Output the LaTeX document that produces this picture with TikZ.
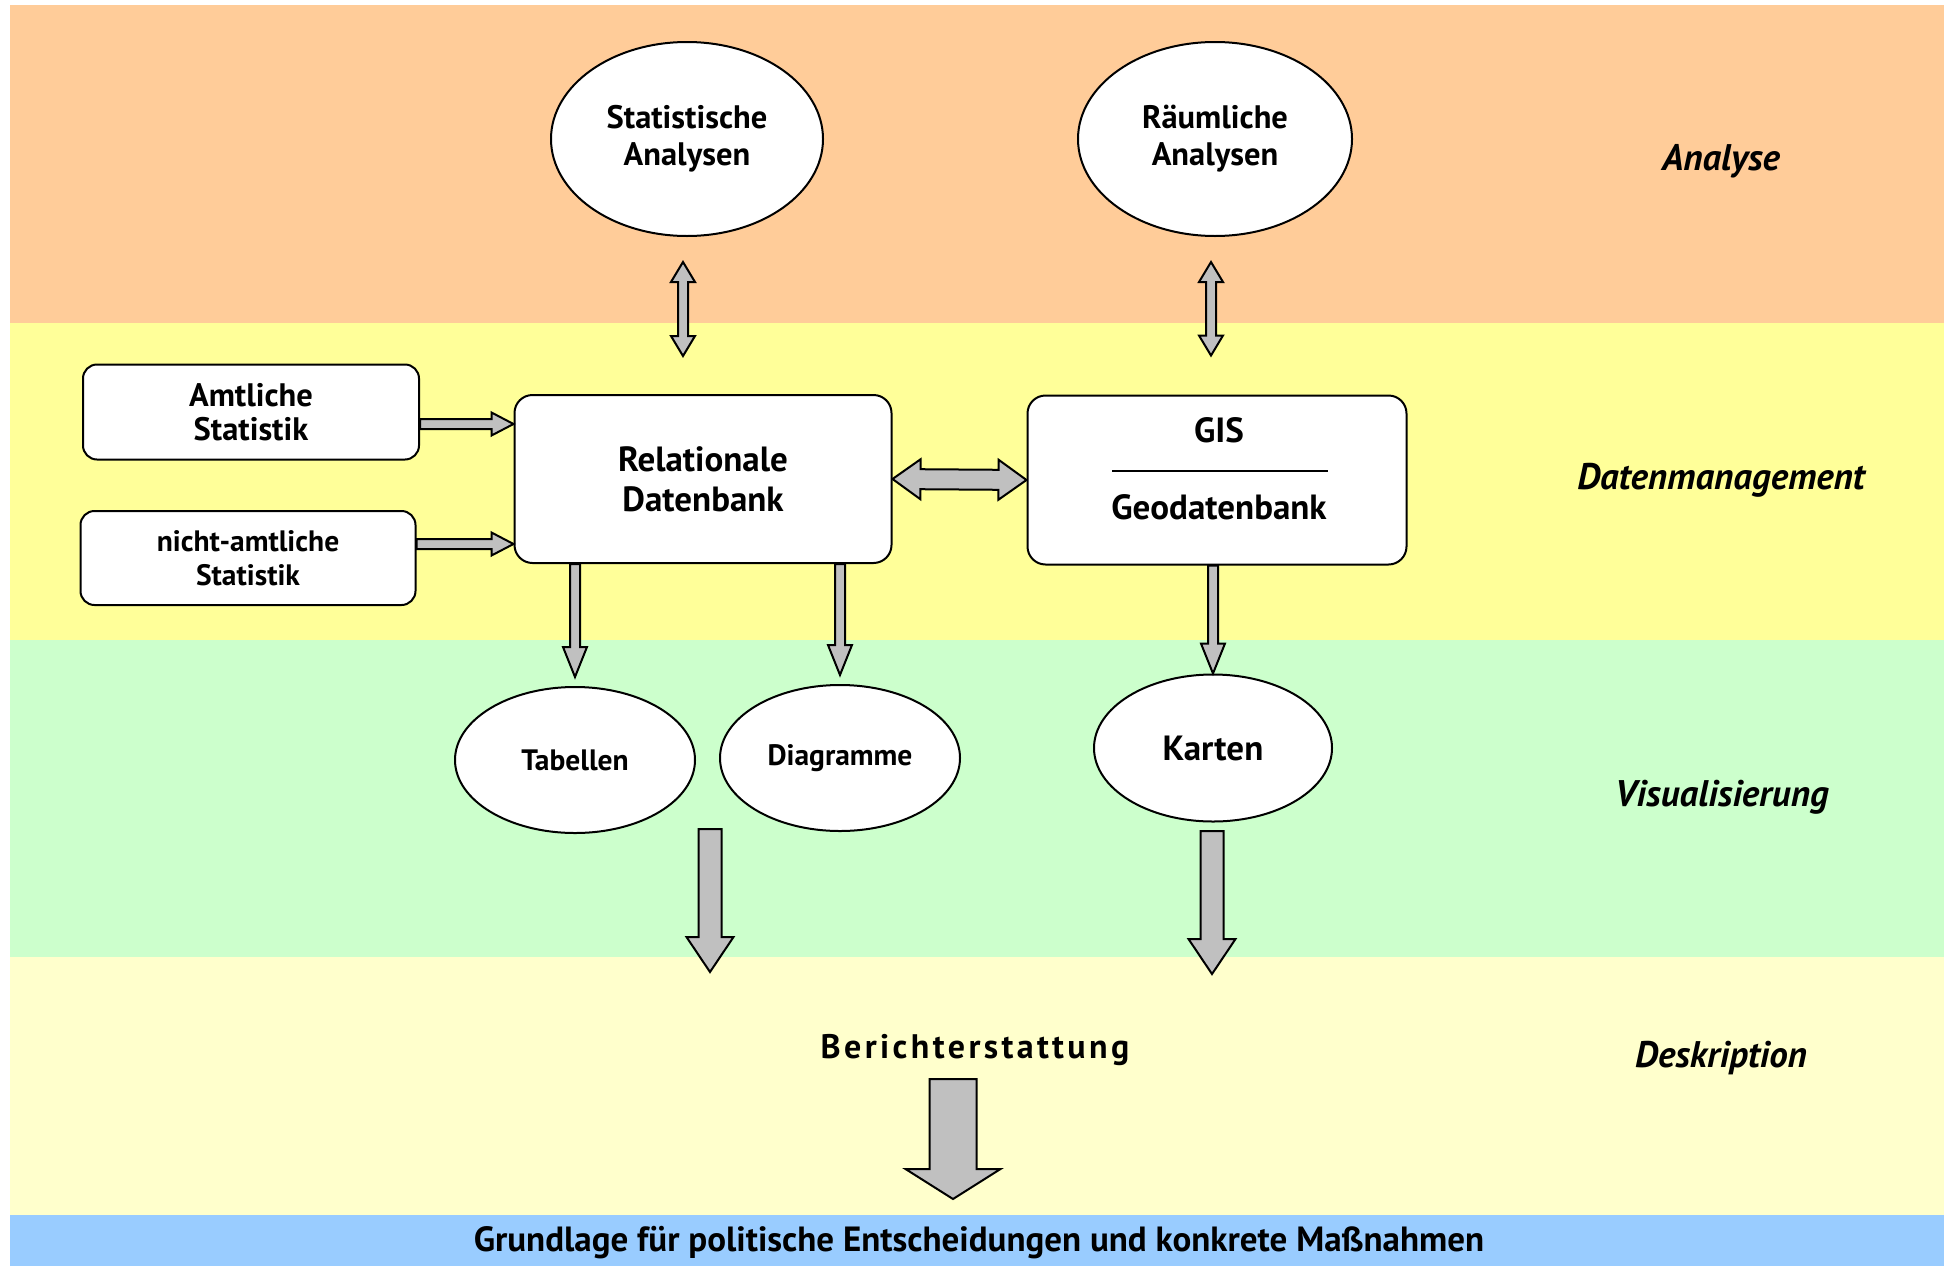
\documentclass[tikz,border=0pt]{standalone}
\usepackage{fontspec}
\setmainfont{PT Sans}
\usetikzlibrary{positioning,shapes.geometric,calc}
\definecolor{bandA}{HTML}{FFCC99}
\definecolor{bandB}{HTML}{FFFF99}
\definecolor{bandC}{HTML}{CCFFCC}
\definecolor{bandD}{HTML}{FFFFCC}
\definecolor{bandE}{HTML}{99CCFF}
\definecolor{arrowgray}{HTML}{C0C0C0}
\tikzset{font=\bfseries}
\tikzset{every node/.append style={transform shape=false}}
\tikzset{
  box/.style={draw,line width=2pt,fill=white,rounded corners=18pt,align=center},
  oval/.style={draw,line width=2pt,fill=white,ellipse,inner sep=0pt,align=center},
  blockarrow/.style={draw,fill=arrowgray,line width=2pt,line join=miter},
  sidelabel/.style={font=\bfseries\itshape\fontsize{37}{42}\selectfont},
  big/.style={font=\bfseries\fontsize{35}{40}\selectfont},
  mid/.style={font=\bfseries\fontsize{32.5}{37}\selectfont},
  small/.style={font=\bfseries\fontsize{29.5}{34}\selectfont}
}
% fat arrow: from, to, shaft width, head width, head length
\newcommand{\fatarrow}[5]{%
  \draw[blockarrow] let \p1=(#1), \p2=(#2),
      \n1={atan2(\y2-\y1,\x2-\x1)}, \n2={veclen(\x2-\x1,\y2-\y1)} in
    [shift={(\p1)},rotate=\n1]
    (0,#3/2) -- (\n2-#5,#3/2) -- (\n2-#5,#4/2) -- (\n2,0)
    -- (\n2-#5,-#4/2) -- (\n2-#5,-#3/2) -- (0,-#3/2) -- cycle;}
% same with a head on both ends
\newcommand{\dblarrow}[5]{%
  \draw[blockarrow] let \p1=(#1), \p2=(#2),
      \n1={atan2(\y2-\y1,\x2-\x1)}, \n2={veclen(\x2-\x1,\y2-\y1)} in
    [shift={(\p1)},rotate=\n1]
    (0,0) -- (#5,#4/2) -- (#5,#3/2) -- (\n2-#5,#3/2) -- (\n2-#5,#4/2)
    -- (\n2,0) -- (\n2-#5,-#4/2) -- (\n2-#5,-#3/2) -- (#5,-#3/2)
    -- (#5,-#4/2) -- cycle;}

\begin{document}
\begin{tikzpicture}[x=1pt,y=-1pt]
  \useasboundingbox (0,0) rectangle (1948,1266);

  % bands
  \fill[bandA] (10,5) rectangle (1944,323);
  \fill[bandB] (10,323) rectangle (1944,640);
  \fill[bandC] (10,640) rectangle (1944,957);
  \fill[bandD] (10,957) rectangle (1944,1215);
  \fill[bandE] (10,1215) rectangle (1944,1266);

  \node[sidelabel] (lblana) at (1721,161) {Analyse};
  \node[sidelabel] (lbldat) at (1721,480) {Datenmanagement};
  \node[sidelabel] (lblvis) at (1722,797) {Visualisierung};
  \node[sidelabel] (lbldes) at (1721,1058) {Deskription};

  % analysis
  \node[oval,mid,minimum width=272pt,minimum height=194pt] (stat) at (687,139) {Statistische\\Analysen};
  \node[oval,mid,minimum width=274pt,minimum height=194pt] (raum) at (1215,139) {Räumliche\\Analysen};

  % data management
  \node[box,font=\bfseries\fontsize{32.5}{34}\selectfont,rounded corners=14pt,minimum width=336pt,minimum height=95pt] (amtl) at (251,412) {Amtliche\\Statistik};
  \node[box,small,rounded corners=14pt,minimum width=335pt,minimum height=94pt] (nichtamtl) at (248,558) {nicht-amtliche\\Statistik};
  \node[box,big,minimum width=377pt,minimum height=168pt] (reldb) at (703,479) {Relationale\\Datenbank};
  \node[box,minimum width=379pt,minimum height=169pt] (gis) at (1217,480) {};
  \node[big] (gistitle) at (1219,430) {GIS};
  \node[big] (geodb) at (1219,507) {Geodatenbank};
  \coordinate (sepl) at (1112,471);
  \coordinate (sepr) at (1328,471);
  \draw[line width=2pt] (sepl) -- (sepr);

  % visualisation
  \node[oval,small,minimum width=240pt,minimum height=146pt] (tab) at (575,760) {Tabellen};
  \node[oval,small,minimum width=240pt,minimum height=146pt] (diag) at (840,758) {Diagramme};
  \node[oval,big,minimum width=238pt,minimum height=147pt] (karten) at (1213,748) {Karten};

  % description
  \node[font=\bfseries\fontsize{34}{38}\selectfont\addfontfeatures{LetterSpace=10}] (bericht) at (975,1050) {Berichterstattung};
  \node[big] (grundlage) at (979,1243) {Grundlage für politische Entscheidungen und konkrete Maßnahmen};

  % connectors
  \dblarrow{$(stat.south)+(-4,25)$}{$(reldb.north -| stat.south)+(-4,-38)$}{10}{24}{20}
  \dblarrow{$(raum.south)+(-4,25)$}{$(gis.north -| raum.south)+(-4,-39)$}{10}{24}{20}
  \fatarrow{$(amtl.east)+(0,12)$}{$(reldb.west)+(0,-55)$}{10}{23}{22}
  \fatarrow{$(nichtamtl.east)+(0,-14)$}{$(reldb.west)+(0,65)$}{10}{23}{22}
  \dblarrow{reldb.east}{gis.west}{20}{40}{28}
  \fatarrow{reldb.south -| tab.north}{$(tab.north)+(0,-9)$}{10}{24}{30}
  \fatarrow{reldb.south -| diag.north}{$(diag.north)+(0,-9)$}{10}{24}{30}
  \fatarrow{gis.south -| karten.north}{karten.north}{10}{24}{30}

  \coordinate (visl) at (710,829);
  \coordinate (visr) at (1212,831);
  \fatarrow{visl}{$(visl)+(0,143)$}{23}{47}{35}
  \fatarrow{visr}{$(visr)+(0,143)$}{23}{47}{35}
  \coordinate (berout) at (953,1079);
  \fatarrow{berout}{$(berout)+(0,120)$}{47}{95}{30}

\end{tikzpicture}
\end{document}
